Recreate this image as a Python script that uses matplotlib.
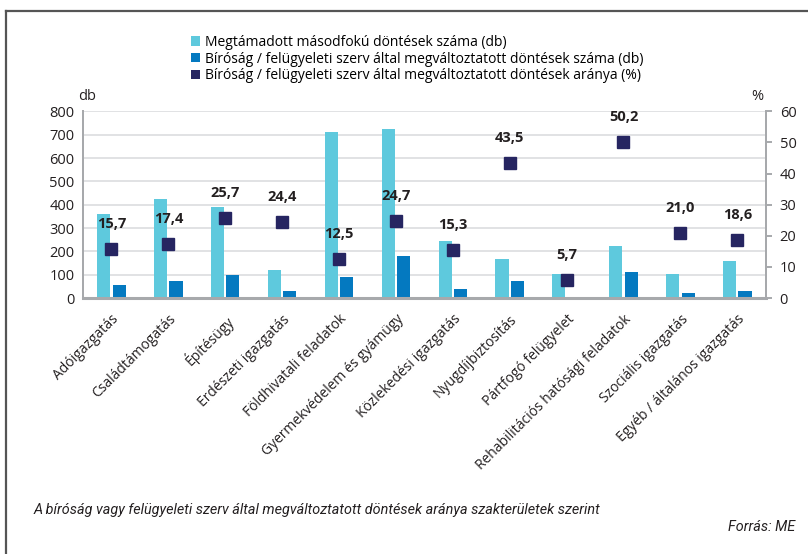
"""
Megváltoztatott döntések szakterületenként - oszlop + arány pontok, két y tengely.
"""
import matplotlib
matplotlib.use("Agg")
import matplotlib.pyplot as plt
from matplotlib.patches import Patch
from matplotlib.lines import Line2D
import numpy as np

# ── Data ──────────────────────────────────────────────────────────────────────
CATEGORIES = [
    "Adóigazgatás", "Családtámogatás", "Építésügy", "Erdészeti igazgatás",
    "Földhivatali feladatok", "Gyermekvédelem és gyámügy", "Közlekedési igazgatás",
    "Nyugdíjbiztosítás", "Pártfogó felügyelet", "Rehabilitációs hatósági feladatok",
    "Szociális igazgatás", "Egyéb / általános igazgatás",
]
CHALLENGED = [360, 425, 390, 120, 710, 725, 245, 166, 105, 225, 105, 160]
CHANGED = [56, 74, 100, 29, 89, 179, 37, 72, 6, 113, 22, 30]
RATIO = [15.7, 17.4, 25.7, 24.4, 12.5, 24.7, 15.3, 43.5, 5.7, 50.2, 21.0, 18.6]

LEGEND = [
    "Megtámadott másodfokú döntések száma (db)",
    "Bíróság / felügyeleti szerv által megváltoztatott döntések száma (db)",
    "Bíróság / felügyeleti szerv által megváltoztatott döntések aránya (%)",
]
CAPTION = ("A bíróság vagy felügyeleti szerv által megváltoztatott "
           "döntések aránya szakterületek szerint")
SOURCE = "Forrás: ME"

# ── Style ─────────────────────────────────────────────────────────────────────
C_LIGHT = "#5ec9dd"
C_DARK = "#0479c0"
C_MARK = "#262561"
C_TEXT = "#231f20"
C_AXIS = "#a7a9ac"
C_GRID = "#dcdddf"

plt.rcParams["font.family"] = ["Open Sans", "DejaVu Sans"]


def main():
    fig = plt.figure(figsize=(8.08, 5.54), dpi=100)
    ax = fig.add_axes([0.1027, 0.462, 0.845, 0.337])
    ax2 = ax.twinx()

    x = np.arange(len(CATEGORIES))
    w = 0.23
    ax.bar(x - 0.135, CHALLENGED, w, color=C_LIGHT, zorder=2)
    ax.bar(x + 0.135, CHANGED, w, color=C_DARK, zorder=2)

    ax.set_xlim(-0.5, len(CATEGORIES) - 0.5)
    ax.set_ylim(0, 800)
    ax.set_yticks(range(0, 801, 100))
    ax.yaxis.grid(True, color=C_GRID, lw=1.2, zorder=0)
    ax.set_axisbelow(True)

    ax2.set_ylim(0, 60)
    ax2.set_yticks(range(0, 61, 10))
    ax2.plot(x, RATIO, ls="none", marker="s", ms=8.5, color=C_MARK, zorder=5)
    for xi, r in zip(x, RATIO):
        ax2.annotate(f"{r:.1f}".replace(".", ","), (xi, r), xytext=(0, 13),
                     textcoords="offset points", ha="center", va="bottom",
                     fontsize=10.5, fontweight="bold", color=C_TEXT)

    for a in (ax, ax2):
        a.spines["top"].set_visible(False)
        for s in ("left", "right", "bottom"):
            a.spines[s].set_color(C_AXIS)
            a.spines[s].set_linewidth(1.4)
    ax.spines["bottom"].set_linewidth(2.2)

    ax.tick_params(axis="y", length=0, labelsize=10.5, labelcolor=C_TEXT, pad=6)
    ax2.tick_params(axis="y", length=4, width=1.4, color=C_AXIS, labelsize=10.5,
                    labelcolor=C_TEXT, pad=6)
    ax.tick_params(axis="x", length=0, pad=10)
    ax.set_xticks(x)
    ax.set_xticklabels(CATEGORIES, rotation=45, ha="right", rotation_mode="anchor",
                       fontsize=10, color=C_TEXT)

    fig.text(0.097, 0.82, "db", fontsize=10.5, color=C_TEXT)
    fig.text(0.93, 0.82, "%", fontsize=10.5, color=C_TEXT)

    handles = [Patch(facecolor=c) for c in (C_LIGHT, C_DARK, C_MARK)]
    fig.legend(handles, LEGEND, loc="upper left", bbox_to_anchor=(0.236, 0.937),
               frameon=False, handlelength=0.65, handleheight=0.65,
               handletextpad=0.35, labelspacing=0.12, fontsize=10,
               borderaxespad=0, borderpad=0)

    fig.text(0.041, 0.073, CAPTION, fontsize=10.4, style="italic", color=C_TEXT,
             family=["Roboto", "DejaVu Sans"])
    fig.text(0.984, 0.042, SOURCE, fontsize=10.4, style="italic", color=C_TEXT,
             ha="right", family=["Roboto", "DejaVu Sans"])

    # frame lines: top and left
    fig.add_artist(Line2D([0.007, 1.0], [0.98, 0.98], color="#555555", lw=1.6,
                          transform=fig.transFigure))
    fig.add_artist(Line2D([0.007, 0.007], [0.0, 0.98], color="#555555", lw=1.6,
                          transform=fig.transFigure))

    fig.savefig("out.png", dpi=100)


if __name__ == "__main__":
    main()
